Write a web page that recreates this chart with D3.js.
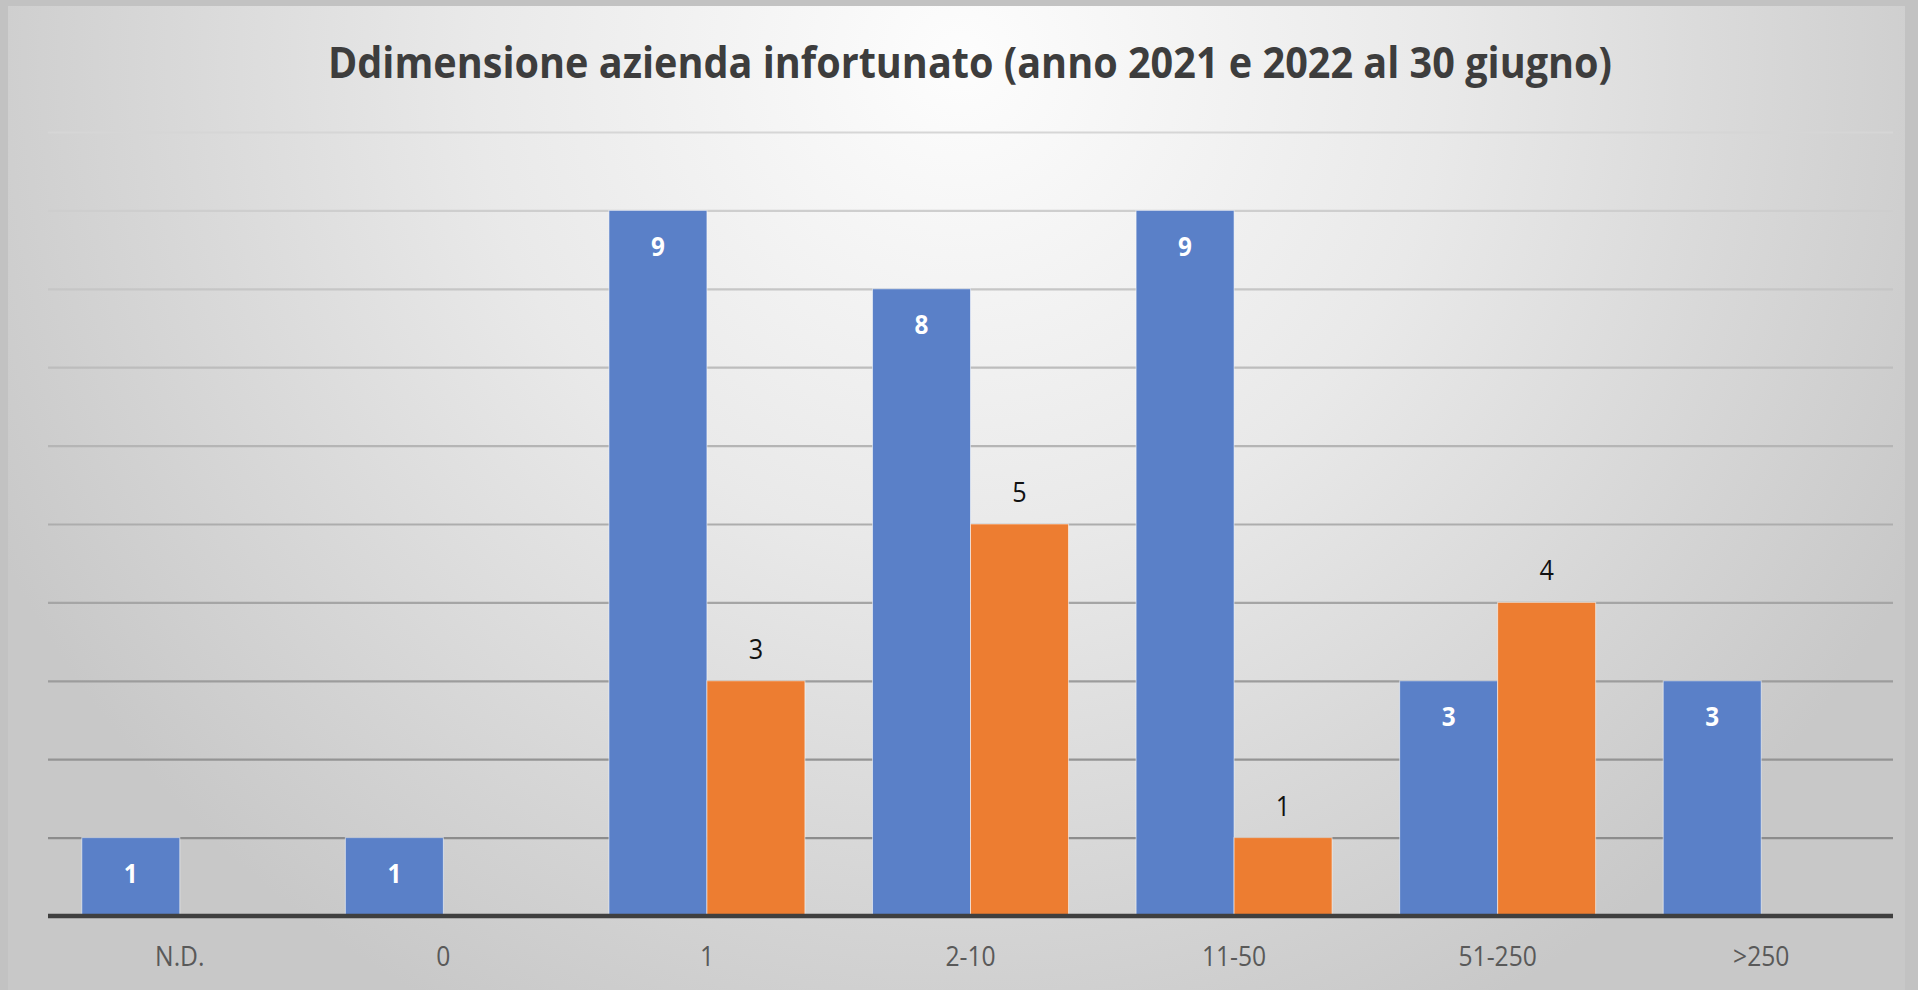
<!DOCTYPE html>
<html>
<head>
<meta charset="utf-8">
<script src="https://cdn.jsdelivr.net/npm/d3@7"></script>
<style>
  html, body { margin: 0; padding: 0; background: #c4c4c4; overflow: hidden; }
  svg { display: block; }
</style>
</head>
<body>
<svg id="chart" width="1918" height="990"></svg>
<script>
// ---- data ----
const titleText = "Ddimensione azienda infortunato (anno 2021 e 2022 al 30 giugno)";
const categories = ["N.D.", "0", "1", "2-10", "11-50", "51-250", ">250"];
const series2021 = [1, 1, 9, 8, 9, 3, 3];
const series2022 = [null, null, 3, 5, 1, 4, null];
const yTicks = [0, 1, 2, 3, 4, 5, 6, 7, 8, 9, 10];

// ---- layout ----
const W = 1918, H = 990;
const plot = { left: 48, right: 1893, top: 132, bottom: 916 };

const svg = d3.select("#chart");
const defs = svg.append("defs");

const bg = defs.append("radialGradient").attr("id", "bg")
  .attr("gradientUnits", "userSpaceOnUse")
  .attr("cx", 960).attr("cy", 60).attr("r", 1080);
bg.append("stop").attr("offset", 0).attr("stop-color", "#fdfdfd");
bg.append("stop").attr("offset", 0.45).attr("stop-color", "#e9e9e9");
bg.append("stop").attr("offset", 1).attr("stop-color", "#c8c8c8");

// outer frame + chart area
svg.append("rect").attr("x", 0).attr("y", 0).attr("width", W).attr("height", H).attr("fill", "#c2c2c2");
svg.append("rect").attr("x", 8).attr("y", 6).attr("width", 1897).attr("height", H - 6).attr("fill", "url(#bg)");

// ---- scales ----
const x0 = d3.scaleBand().domain(categories)
  .range([plot.left, plot.right]).paddingInner(0.2565).paddingOuter(0.12825);
const x1 = d3.scaleBand().domain(["2021", "2022"]).range([0, x0.bandwidth()]).padding(0);
const y = d3.scaleLinear().domain([0, 10]).range([plot.bottom, plot.top]);

// condense text horizontally (Calibri-like)
function condense(sel, f) {
  sel.each(function () {
    const w = this.getComputedTextLength();
    d3.select(this).attr("textLength", w * f).attr("lengthAdjust", "spacingAndGlyphs");
  });
}

// ---- gridlines ----
const yAxisGrid = d3.axisLeft(y).tickValues(yTicks.filter(t => t > 0))
  .tickSize(-(plot.right - plot.left)).tickFormat("");
const gGrid = svg.append("g").attr("transform", `translate(${plot.left},0)`).call(yAxisGrid);
gGrid.select(".domain").remove();
const gridColor = d3.scaleLinear().domain([10, 1]).range(["#d6d6d6", "#8c8c8c"]);
gGrid.selectAll(".tick line").attr("stroke", d => gridColor(d)).attr("stroke-width", 2.2);

// ---- bars ----
const rows = categories.map((c, i) => ({ cat: c, vals: [
  { key: "2021", v: series2021[i] }, { key: "2022", v: series2022[i] } ] }));
const colors = { "2021": "#5a80c8", "2022": "#ed7d31" };

const groups = svg.append("g").selectAll("g").data(rows).join("g")
  .attr("transform", d => `translate(${x0(d.cat)},0)`);

groups.selectAll("rect").data(d => d.vals.filter(v => v.v != null)).join("rect")
  .attr("x", d => x1(d.key))
  .attr("width", x1.bandwidth())
  .attr("y", d => y(d.v))
  .attr("height", d => y(0) - y(d.v))
  .attr("fill", d => colors[d.key])
  .attr("stroke", "rgba(255,255,255,0.55)")
  .attr("stroke-width", 1);

// data labels
const lbls = groups.selectAll("text.lbl").data(d => d.vals.filter(v => v.v != null)).join("text")
  .attr("class", "lbl")
  .attr("x", d => x1(d.key) + x1.bandwidth() / 2)
  .attr("y", d => d.key === "2021" ? y(d.v) + 35 : y(d.v) - 33)
  .attr("text-anchor", "middle")
  .attr("dominant-baseline", "central")
  .attr("font-family", "'Open Sans', sans-serif")
  .attr("font-size", d => d.key === "2021" ? 27 : 28)
  .attr("font-weight", d => d.key === "2021" ? 700 : 400)
  .attr("fill", d => d.key === "2021" ? "#ffffff" : "#111111")
  .text(d => d.v);
condense(lbls, 0.9);

// ---- x axis ----
const xAxis = d3.axisBottom(x0).tickSize(0).tickPadding(0);
const gx = svg.append("g").attr("transform", `translate(0,${plot.bottom})`).call(xAxis);
gx.select(".domain").remove();
gx.selectAll(".tick text")
  .attr("y", 39)
  .attr("dy", null)
  .attr("dominant-baseline", "central")
  .attr("font-family", "'Open Sans', sans-serif")
  .attr("font-size", 28)
  .attr("fill", "#595959");
condense(gx.selectAll(".tick text"), 0.88);

svg.append("line")
  .attr("x1", plot.left).attr("x2", plot.right)
  .attr("y1", y(0)).attr("y2", y(0))
  .attr("stroke", "#3f3f3f").attr("stroke-width", 4.5);

// ---- title ----
svg.append("text")
  .attr("x", 970).attr("y", 78)
  .attr("text-anchor", "middle")
  .attr("font-family", "'Open Sans', sans-serif")
  .attr("font-weight", 700)
  .attr("font-size", 43)
  .attr("fill", "#3d3d3d")
  .attr("textLength", 1284)
  .attr("lengthAdjust", "spacingAndGlyphs")
  .text(titleText);
</script>
</body>
</html>
